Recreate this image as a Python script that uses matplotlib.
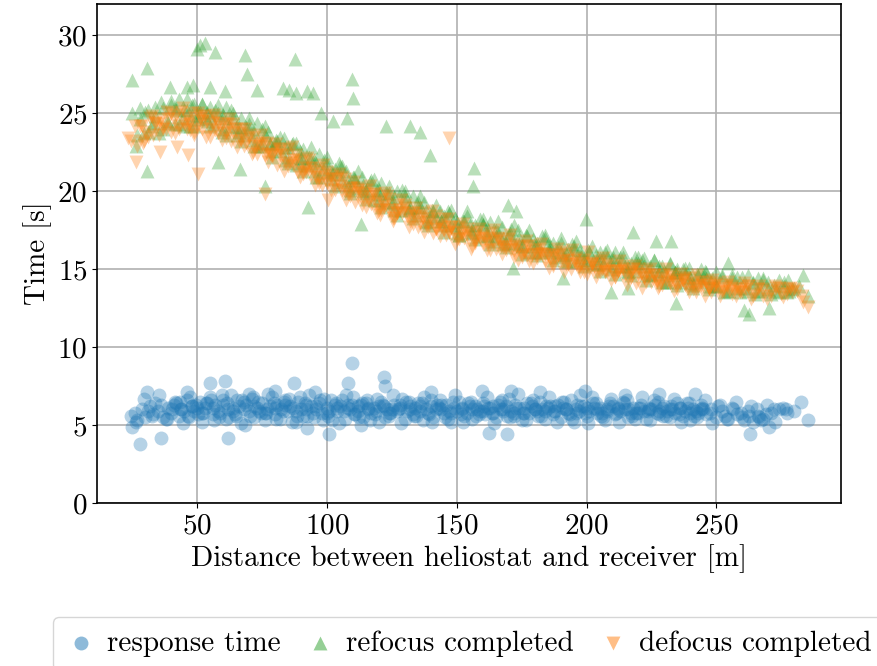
import matplotlib
matplotlib.use("Agg")
import matplotlib.pyplot as plt

plt.rcParams["font.family"] = ["cmr10", "DejaVu Serif"]
plt.rcParams["mathtext.fontset"] = "cm"
plt.rcParams["axes.formatter.use_mathtext"] = True
plt.rcParams["font.size"] = 21

# --- response time (blue circles) ---
resp_x = [
    24.5, 26, 27, 29, 30, 32, 33, 35, 36, 38,
    39, 40, 42, 43, 44, 46, 47, 48, 49, 51,
    52, 53, 55, 56, 57, 58, 60, 61, 62, 63,
    65, 66, 67, 68, 70, 71, 72, 73, 75, 76,
    77, 79, 80, 81, 82, 84, 85, 86, 88, 89,
    90, 91, 93, 94, 95, 97, 98, 99, 100, 102,
    103, 104, 106, 107, 108, 110, 111, 112, 114, 115,
    117, 118, 120, 121, 123, 124, 126, 127, 129, 130,
    132, 133, 135, 137, 138, 140, 141, 143, 145, 146,
    148, 150, 151, 153, 155, 156, 158, 160, 161, 163,
    165, 166, 168, 170, 172, 173, 175, 177, 178, 180,
    182, 184, 185, 187, 189, 190, 192, 194, 195, 197,
    199, 200, 202, 204, 205, 207, 209, 211, 212, 214,
    216, 218, 219, 221, 223, 225, 226, 228, 230, 232,
    233, 235, 237, 239, 240, 242, 244, 246, 248, 250,
    252, 254, 256, 258, 260, 262, 264, 266, 268, 271,
    274, 277, 280,
    41, 45, 50, 54, 59, 64, 69, 74, 78, 83,
    87, 92, 96, 101, 105, 109, 113, 116, 119, 122,
    125, 128, 131, 134, 136, 139, 142, 144, 147, 149,
    152, 154, 157, 159, 162, 164, 167, 169, 171, 174,
    176, 179, 181, 183, 186, 188, 191, 193, 196, 198,
    201, 203, 206, 208, 210, 213, 215, 217, 220, 222,
    224, 227, 229, 231, 234, 236, 238, 241, 243, 245,
    31, 34, 37, 40.5, 43.5, 46.5, 49.5, 52.5, 55.5, 58.5,
    61.5, 64.5, 67.5, 70.5, 73.5, 76.5, 79.5, 82.5, 85.5, 88.5,
    91.5, 94.5, 97.5, 100.5, 103.5, 106.5, 109.5, 112.5, 115.5, 118.5,
    121.5, 124.5, 127.5, 130.5, 133.5, 136.5, 139.5, 142.5, 145.5, 148.5,
    151.5, 154.5, 157.5, 160.5, 163.5, 166.5, 169.5, 172.5, 175.5, 178.5,
    181.5, 184.5, 187.5, 190.5, 193.5, 196.5, 199.5, 202.5, 205.5, 208.5,
    211.5, 214.5, 217.5, 220.5, 223.5, 226.5, 229.5, 232.5, 235.5, 238.5,
    241.5, 244.5, 247.5, 250.5, 253.5, 256.5, 259.5, 262.5, 265.5, 269,
    44, 48, 52, 56, 60, 64, 68, 72, 76, 80,
    84, 88, 92, 96, 100, 104, 108, 112, 116, 120,
    124, 128, 132, 136, 140, 144, 148, 152, 156, 160,
    164, 168, 172, 176, 180, 184, 188, 192, 196, 200,
    204, 208, 212, 216, 220, 224, 228, 232, 236, 240, 244,
    26.5, 29.5, 32.5, 35.5, 38.5, 41.5, 44.5, 47.5, 50.5, 53.5,
    56.5, 59.5, 62.5, 65.5, 68.5, 71.5, 74.5, 77.5, 80.5, 83.5,
    86.5, 89.5, 92.5, 95.5, 98.5, 101.5, 104.5, 107.5, 110.5, 113.5,
    116.5, 119.5, 122.5, 125.5, 128.5, 131.5, 134.5, 137.5, 140.5, 143.5,
    146.5, 149.5, 152.5, 155.5, 158.5, 161.5, 164.5, 167.5, 170.5, 173.5,
    176.5, 179.5, 182.5, 185.5, 188.5, 191.5, 194.5, 197.5, 200.5, 203.5,
    206.5, 209.5, 212.5, 215.5, 218.5, 221.5, 224.5, 227.5, 230.5, 233.5,
    236.5, 239.5, 242.5, 245.5, 248.5, 251.5, 254.5, 257.5, 260.5, 263.5,
    266.5, 269.5, 272.5, 275.5,
    25.1, 28.1, 36.2, 30.6, 55.0, 60.8, 61.8, 87.3, 92.2, 100.9,
    108.2, 109.5, 122.0, 122.3, 113.3, 162.5, 169.3, 159.9, 171.0, 199.6,
    227.8, 241.9, 263.1, 267.2, 270.4, 272.3, 276.8, 282.6, 285.1, 46,
    80, 70, 140, 182, 215,
]
resp_y = [
    5.6, 5.8, 5.3, 6.0, 5.5, 6.2, 5.7, 5.9, 6.3, 5.4,
    6.1, 5.8, 6.4, 5.6, 6.0, 6.6, 5.5, 6.2, 5.9, 6.5,
    5.2, 6.1, 6.8, 5.7, 6.3, 5.9, 6.6, 5.4, 6.0, 6.9,
    5.6, 6.2, 5.1, 6.5, 5.9, 6.7, 5.5, 6.1, 6.4, 5.3,
    6.0, 6.8, 5.7, 6.3, 5.4, 6.6, 5.9, 6.2, 5.2, 6.5,
    6.0, 5.6, 6.9, 6.2, 5.5, 6.4, 5.8, 6.7, 6.1, 5.3,
    6.3, 5.9, 6.6, 5.4, 6.1, 6.8, 5.7, 6.2, 5.5, 6.4,
    5.8, 6.1, 5.2, 6.5, 6.0, 5.6, 6.3, 5.9, 6.7, 5.4,
    6.2, 5.7, 6.4, 5.3, 6.0, 6.6, 5.5, 6.1, 5.8, 6.3,
    5.2, 5.9, 6.5, 5.6, 6.2, 5.4, 6.0, 6.4, 5.7, 6.1,
    5.5, 6.3, 5.9, 6.7, 5.6, 6.1, 5.3, 6.4, 5.8, 6.0,
    6.5, 5.4, 6.1, 5.7, 6.3, 5.5, 6.0, 6.6, 5.2, 5.9,
    6.2, 5.6, 6.8, 5.8, 6.1, 5.3, 6.4, 5.7, 6.0, 6.5,
    5.5, 6.1, 5.8, 6.3, 5.4, 6.0, 6.6, 5.7, 6.2, 5.5,
    6.0, 6.4, 5.6, 6.1, 5.3, 5.9, 6.3, 5.7, 6.0, 5.5,
    5.9, 5.4, 6.1, 5.7, 5.5, 5.9, 5.2, 5.6, 5.4, 5.8,
    6.0, 5.8, 5.9,
    6.3, 5.9, 6.1, 6.4, 5.8, 6.1, 6.3, 5.9, 6.2, 5.9,
    6.1, 6.3, 6.0, 5.9, 6.2, 6.0, 6.3, 6.1, 5.9, 6.2,
    6.0, 6.3, 5.9, 6.1, 6.2, 5.8, 6.0, 6.3, 5.9, 6.1,
    6.0, 5.8, 6.2, 5.9, 6.1, 5.8, 6.0, 6.2, 5.9, 6.1,
    5.8, 6.2, 5.9, 6.0, 6.2, 5.9, 6.1, 5.8, 6.0, 6.2,
    5.9, 6.1, 5.8, 6.0, 6.2, 5.9, 6.0, 5.8, 6.1, 5.9,
    6.0, 5.8, 6.1, 5.9, 5.8, 6.1, 5.9, 6.0, 5.8, 6.0,
    5.9, 6.4, 5.5, 6.0, 6.5, 5.6, 6.3, 5.8, 6.6, 5.5,
    6.4, 5.7, 6.6, 5.6, 6.5, 5.8, 6.4, 6.0, 6.7, 5.6,
    6.4, 5.8, 6.6, 5.6, 6.4, 5.9, 6.3, 5.5, 6.6, 5.7,
    6.3, 5.8, 6.0, 6.5, 5.6, 6.4, 5.7, 6.3, 5.5, 6.5,
    5.7, 6.4, 5.6, 6.2, 5.8, 6.5, 5.6, 6.3, 5.8, 6.4,
    5.6, 6.2, 5.9, 6.5, 5.7, 6.3, 5.8, 6.4, 5.6, 6.2,
    5.8, 6.4, 5.6, 6.1, 5.9, 6.3, 5.6, 6.2, 5.7, 6.4,
    5.6, 6.1, 5.8, 6.2, 5.6, 6.0, 5.8, 5.6, 6.0, 5.7,
    6.0, 6.2, 5.8, 6.1, 6.3, 5.9, 6.0, 6.2, 5.8, 6.1,
    6.3, 5.9, 6.0, 6.2, 5.8, 6.1, 6.3, 5.9, 6.0, 6.2,
    5.8, 6.1, 6.0, 5.9, 6.2, 6.0, 5.8, 6.1, 6.0, 5.9,
    6.2, 6.0, 5.8, 6.1, 6.0, 5.9, 6.2, 6.0, 5.8, 6.1,
    6.0, 5.9, 6.1, 6.0, 5.8, 6.1, 5.9, 6.0, 6.1, 5.8, 6.0,
    5.2, 6.7, 5.6, 6.9, 5.4, 6.5, 5.1, 6.8, 5.7, 6.4,
    5.3, 6.9, 5.5, 6.6, 5.0, 6.8, 5.8, 7.0, 5.4, 6.5,
    5.2, 6.8, 5.6, 7.1, 5.3, 6.6, 5.1, 6.9, 5.7, 6.4,
    5.3, 6.7, 5.5, 6.9, 5.1, 6.5, 5.6, 6.8, 5.2, 6.6,
    5.4, 6.9, 5.2, 6.5, 5.7, 6.8, 5.1, 6.6, 5.5, 7.0,
    5.3, 6.6, 5.6, 6.8, 5.2, 6.5, 5.4, 6.9, 5.1, 6.4,
    5.5, 6.7, 5.2, 6.6, 5.4, 6.8, 5.3, 6.5, 5.6, 6.7,
    5.2, 6.4, 5.5, 6.6, 5.1, 6.3, 5.4, 6.5, 5.3, 6.2,
    5.5, 6.3, 5.2, 6.1,
    4.9, 3.8, 4.2, 7.1, 7.7, 7.8, 4.2, 7.7, 4.8, 4.4,
    7.7, 9.0, 8.1, 7.5, 5.0, 4.5, 4.4, 7.2, 7.2, 7.2,
    7.0, 7.0, 4.4, 5.3, 4.9, 6.0, 6.0, 6.5, 5.3, 7.1,
    7.2, 7.0, 7.1, 7.1, 6.9,
]

# --- refocus completed (green up-triangles) ---
refocus_x = [
    25, 26.5, 28, 29.5, 31, 32.5, 34, 35.5, 37, 38.5,
    40, 41.5, 43, 44.5, 46, 47.5, 49, 50.5, 52, 53.5,
    55, 56.5, 58, 59.5, 61, 62.5, 64, 65.5, 67, 68.5,
    70, 71.5, 73, 74.5, 76, 77.5, 79, 80.5, 82, 83.5,
    85, 86.5, 88, 89.5, 91, 92.5, 94, 95.5, 97, 98.5,
    100, 101.5, 103, 104.5, 106, 107.5, 109, 110.5, 112, 113.5,
    115, 116.5, 118, 119.5, 121, 122.5, 124, 125.5, 127, 128.5,
    130, 131.5, 133, 134.5, 136, 137.5, 139, 140.5, 142, 143.5,
    145, 146.5, 148, 149.5, 151, 152.5, 154, 155.5, 157, 158.5,
    160, 161.5, 163, 164.5, 166, 167.5, 169, 170.5, 172, 173.5,
    175, 176.5, 178, 179.5, 181, 182.5, 184, 185.5, 187, 188.5,
    190, 191.5, 193, 194.5, 196, 197.5, 199, 200.5, 202, 203.5,
    205, 206.5, 208, 209.5, 211, 212.5, 214, 215.5, 217, 218.5,
    220, 221.5, 223, 224.5, 226, 227.5, 229, 230.5, 232, 233.5,
    235, 236.5, 238, 239.5, 241, 242.5, 244, 245.5, 247, 248.5,
    250, 252, 254, 256, 258, 260, 262, 264, 266, 268,
    270, 272, 274, 276, 278, 280,
    42, 48, 54, 60, 66, 72, 78, 84, 90, 96,
    102, 108, 114, 120, 126, 132, 138, 144, 150, 156,
    162, 168, 174, 180, 186, 192, 198, 204, 210, 216,
    222, 228, 234, 240, 246,
    27, 30, 33, 36, 39, 42, 45, 48, 51, 54,
    57, 60, 63, 66, 69, 72, 75, 78, 81, 84,
    87, 90, 93, 96, 99, 102, 105, 108, 111, 114,
    117, 120, 123, 126, 129, 132, 135, 138, 141, 144,
    147, 150, 153, 156, 159, 162, 165, 168, 171, 174,
    177, 180, 183, 186, 189, 192, 195, 198, 201, 204,
    207, 210, 213, 216, 219, 222, 225, 228, 231, 234,
    237, 240, 243, 246, 249, 252, 255, 258, 261, 264,
    267, 270, 273, 276, 279, 282,
    45, 50, 55, 60, 65, 70, 75, 80, 85, 90,
    95, 100, 105, 110, 115, 120, 125, 130, 135, 140,
    145, 150, 155, 160, 165, 170, 175, 180, 185, 190,
    195, 200, 205, 210, 215, 220, 225, 230, 235, 240,
    245, 250,
    28, 31, 34, 37, 40, 43, 46, 49, 52, 55,
    58, 61, 64, 67, 70, 73, 76, 79, 82, 85,
    88, 91, 94, 97, 100, 103, 106, 109, 112, 115,
    118, 121, 124, 127, 130, 133, 136, 139, 142, 145,
    148, 151, 154, 157, 160, 163, 166, 169, 172, 175,
    178, 181, 184, 187, 190, 193, 196, 199, 202, 205,
    208, 211, 214, 217, 220, 223, 226, 229, 232, 235,
    238, 241, 244, 247, 250, 253, 256, 259, 262, 265,
    268, 271, 274, 277,
    24.9, 30.9, 50.1, 51.2, 53.1, 56.9, 68.5, 69.1, 87.7, 83.1,
    85.5, 88.3, 39.6, 48.6, 55.0, 30.7, 76.2, 109.5, 110.1, 92.2,
    94.7, 97.6, 102.2, 107.6, 122.7, 131.9, 135.8, 139.6, 156.5, 156.3,
    92.8, 113.3, 199.9, 217.8, 226.8, 232.6, 169.7, 173.0, 209.5, 215.9,
    234.5, 171.7, 190.9, 283.2, 285.1, 262.7, 260.8, 270.4, 277.4, 254.3,
    265.9, 46.0, 60.8, 73.0, 58.2, 66.5,
]
refocus_y = [
    25.0, 22.9, 24.6, 23.7, 25.2, 24.2, 24.8, 23.7, 25.3, 24.5,
    25.5, 24.3, 25.9, 24.7, 25.2, 24.2, 25.6, 24.6, 25.6, 24.7,
    25.4, 24.3, 25.0, 23.8, 25.4, 24.2, 24.7, 23.6, 24.7, 23.6,
    24.3, 23.3, 24.4, 22.9, 23.6, 23.8, 22.6, 23.3, 22.6, 23.4,
    22.2, 23.0, 21.7, 22.6, 22.7, 21.7, 22.1, 21.3, 22.4, 21.4,
    21.8, 20.8, 21.4, 21.8, 20.6, 21.3, 20.1, 20.9, 20.2, 20.9,
    19.9, 20.6, 19.4, 20.1, 20.5, 19.3, 19.9, 19.3, 20.0, 18.8,
    19.7, 18.8, 19.7, 18.5, 19.0, 19.3, 18.1, 18.8, 18.3, 18.7,
    17.8, 18.7, 17.8, 18.3, 17.2, 18.1, 18.4, 17.4, 17.8, 17.1,
    17.9, 17.2, 18.0, 16.8, 17.4, 17.7, 16.7, 17.3, 16.7, 17.5,
    16.5, 17.2, 16.1, 16.9, 16.7, 16.1, 17.0, 16.2, 16.7, 15.8,
    16.7, 15.9, 16.3, 16.6, 15.5, 16.2, 15.6, 16.2, 15.3, 15.9,
    16.1, 15.3, 15.8, 15.0, 16.1, 15.2, 15.8, 14.9, 15.4, 15.8,
    14.9, 15.6, 14.6, 15.2, 15.6, 14.7, 15.2, 14.2, 15.3, 14.6,
    15.0, 14.2, 14.7, 15.1, 14.0, 14.7, 14.2, 14.9, 13.9, 14.4,
    13.9, 14.6, 13.6, 14.4, 13.8, 14.5, 13.6, 14.1, 13.6, 14.3,
    13.7, 14.0, 13.5, 13.9, 13.6, 13.8,
    25.2, 24.9, 25.1, 24.7, 24.1, 23.8, 23.1, 22.8, 22.1, 21.8,
    21.3, 20.7, 20.4, 19.8, 19.6, 19.0, 18.7, 18.1, 18.0, 17.6,
    17.5, 17.0, 17.0, 16.5, 16.5, 16.0, 16.0, 15.6, 15.6, 15.2,
    15.2, 14.9, 14.8, 14.5, 14.4,
    23.6, 25.1, 24.4, 25.7, 24.4, 25.3, 24.2, 25.5, 25.1, 24.5,
    25.2, 24.0, 25.2, 23.8, 24.1, 22.9, 24.0, 23.0, 23.2, 22.0,
    23.1, 21.8, 22.2, 20.9, 22.0, 21.1, 21.6, 20.3, 20.7, 20.0,
    20.7, 19.4, 19.9, 18.8, 20.1, 18.9, 19.3, 18.0, 18.7, 18.1,
    18.6, 17.3, 18.1, 17.3, 18.2, 17.1, 17.5, 16.6, 17.6, 16.6,
    17.1, 16.1, 17.1, 16.1, 16.4, 15.5, 16.5, 15.8, 16.1, 15.3,
    16.1, 15.2, 15.8, 14.8, 15.4, 15.7, 14.6, 15.2, 14.2, 14.8,
    15.0, 14.1, 14.6, 14.8, 13.9, 14.5, 13.6, 14.5, 13.8, 14.2,
    13.6, 14.2, 13.6, 14.2, 13.7, 13.9,
    25.2, 24.8, 24.9, 24.9, 24.1, 24.0, 23.1, 23.1, 22.8, 22.1,
    22.0, 21.2, 21.1, 20.9, 20.1, 20.1, 19.2, 19.3, 19.0, 18.4,
    18.4, 17.7, 17.8, 17.8, 17.1, 17.2, 16.5, 16.7, 16.6, 16.1,
    16.2, 15.6, 15.7, 15.8, 15.2, 15.4, 14.7, 14.9, 14.8, 14.4,
    14.5, 14.0,
    25.3, 23.8, 25.4, 24.0, 25.8, 24.3, 25.9, 24.2, 25.6, 24.2,
    25.5, 23.6, 25.0, 23.2, 24.7, 22.9, 24.2, 22.2, 23.5, 21.8,
    23.1, 21.3, 22.8, 20.9, 22.2, 20.3, 21.6, 19.9, 21.3, 19.5,
    20.8, 19.0, 20.3, 18.5, 20.0, 18.3, 19.7, 17.8, 19.1, 17.4,
    18.8, 17.2, 18.7, 16.9, 18.2, 16.6, 18.1, 16.4, 17.8, 16.0,
    17.5, 15.9, 17.2, 15.6, 17.0, 15.5, 16.8, 15.2, 16.5, 14.9,
    16.2, 14.7, 16.1, 14.6, 15.8, 14.3, 15.6, 14.2, 15.4, 14.0,
    15.1, 13.8, 15.0, 13.7, 14.8, 13.5, 14.6, 13.5, 14.6, 13.4,
    14.4, 13.4, 14.3, 13.5,
    27.1, 27.9, 29.1, 29.4, 29.5, 28.9, 28.7, 27.5, 28.5, 26.6,
    26.5, 26.3, 26.7, 26.8, 26.7, 21.3, 20.3, 27.2, 26.0, 26.4,
    26.3, 25.0, 24.5, 24.7, 24.2, 24.2, 23.8, 22.3, 21.5, 20.3,
    19.0, 17.9, 18.2, 17.4, 16.8, 16.8, 19.1, 18.7, 13.5, 13.8,
    12.8, 15.1, 14.4, 14.6, 13.3, 12.1, 12.4, 12.5, 14.3, 15.4,
    14.4, 26.7, 26.4, 26.5, 21.9, 21.4,
]

# --- defocus completed (orange down-triangles) ---
defocus_x = [
    24.5, 26, 27, 29, 30, 32, 33, 35, 36, 38,
    39, 40, 42, 43, 44, 46, 47, 48, 49, 51,
    52, 53, 55, 56, 57, 58, 60, 61, 62, 63,
    65, 66, 67, 68, 70, 71, 72, 73, 75, 76,
    77, 79, 80, 81, 82, 84, 85, 86, 88, 89,
    90, 91, 93, 94, 95, 97, 98, 99, 100, 102,
    103, 104, 106, 107, 108, 110, 111, 112, 114, 115,
    117, 118, 120, 121, 123, 124, 126, 127, 129, 130,
    132, 133, 135, 137, 138, 140, 141, 143, 145, 146,
    148, 150, 151, 153, 155, 156, 158, 160, 161, 163,
    165, 166, 168, 170, 172, 173, 175, 177, 178, 180,
    182, 184, 185, 187, 189, 190, 192, 194, 195, 197,
    199, 200, 202, 204, 205, 207, 209, 211, 212, 214,
    216, 218, 219, 221, 223, 225, 226, 228, 230, 232,
    233, 235, 237, 239, 240, 242, 244, 246, 248, 250,
    252, 254, 256, 258, 260, 262, 264, 266, 268, 271,
    273, 275, 277, 279, 281,
    34, 37, 41, 45, 50, 54, 59, 64, 69, 74,
    78, 83, 87, 92, 96, 101, 105, 109, 113, 116,
    119, 122, 125, 128, 131, 134, 136, 139, 142, 144,
    147, 149, 152, 154, 157, 159, 162, 164, 167, 169,
    171, 174, 176, 179, 181, 183, 186, 188, 191, 193,
    196, 198, 201, 203, 206, 208, 210, 213, 215, 217,
    220, 222, 224, 227, 229, 231, 234, 236, 238, 241,
    243, 245, 247, 249, 251, 253, 255, 257, 259, 261,
    28, 31, 34, 37, 40, 43, 46, 49, 52, 55,
    58, 61, 64, 67, 70, 73, 76, 79, 82, 85,
    88, 91, 94, 97, 100, 103, 106, 109, 112, 115,
    118, 121, 124, 127, 130, 133, 136, 139, 142, 145,
    148, 151, 154, 157, 160, 163, 166, 169, 172, 175,
    178, 181, 184, 187, 190, 193, 196, 199, 202, 205,
    208, 211, 214, 217, 220, 223, 226, 229, 232, 235,
    238, 241, 244, 247, 250, 253, 256, 259, 262, 265,
    268, 271, 274, 277, 280, 283,
    47, 52, 57, 62, 67, 72, 77, 82, 87, 92,
    97, 102, 107, 112, 117, 122, 127, 132, 137, 142,
    147, 152, 157, 162, 167, 172, 177, 182, 187, 192,
    197, 202, 207, 212, 217, 222, 227, 232, 237, 242,
    247,
    29.5, 32.5, 35.5, 38.5, 41.5, 44.5, 47.5, 50.5, 53.5, 56.5,
    59.5, 62.5, 65.5, 68.5, 71.5, 74.5, 77.5, 80.5, 83.5, 86.5,
    89.5, 92.5, 95.5, 98.5, 101.5, 104.5, 107.5, 110.5, 113.5, 116.5,
    119.5, 122.5, 125.5, 128.5, 131.5, 134.5, 137.5, 140.5, 143.5, 146.5,
    149.5, 152.5, 155.5, 158.5, 161.5, 164.5, 167.5, 170.5, 173.5, 176.5,
    179.5, 182.5, 185.5, 188.5, 191.5, 194.5, 197.5, 200.5, 203.5, 206.5,
    209.5, 212.5, 215.5, 218.5, 221.5, 224.5, 227.5, 230.5, 233.5, 236.5,
    239.5, 242.5, 245.5, 248.5, 251.5, 254.5, 257.5, 260.5, 263.5, 266.5,
    269.5, 272.5, 275.5, 278.5,
    26.5, 50.5, 76.2, 147.0, 285.1, 283.2, 23.6, 29.3, 35.8, 42.2,
    46.7, 100.5, 120.4, 125.5,
]
defocus_y = [
    23.2, 24.2, 22.9, 24.2, 23.8, 24.7, 23.6, 24.3, 24.6, 24.0,
    24.6, 23.8, 24.9, 24.2, 25.1, 24.0, 24.5, 25.0, 23.6, 24.7,
    24.0, 24.8, 23.5, 24.4, 24.7, 23.7, 24.3, 23.7, 24.3, 23.2,
    24.0, 23.2, 24.0, 22.9, 23.4, 22.4, 23.5, 22.9, 23.1, 22.3,
    23.1, 22.3, 22.7, 21.7, 22.6, 21.8, 22.7, 21.8, 22.0, 21.2,
    21.9, 21.1, 22.0, 21.1, 21.3, 21.5, 20.4, 21.1, 20.5, 21.0,
    20.1, 20.8, 20.1, 20.8, 19.8, 20.2, 19.3, 20.2, 19.6, 20.1,
    19.2, 19.8, 18.8, 19.4, 19.7, 18.8, 18.3, 19.1, 18.6, 19.1,
    18.1, 18.6, 17.7, 18.6, 17.8, 18.2, 17.3, 17.8, 18.2, 17.2,
    17.7, 16.9, 17.7, 17.0, 17.3, 16.5, 17.4, 16.6, 17.0, 17.3,
    16.3, 16.9, 16.4, 16.9, 15.8, 16.5, 15.9, 16.5, 15.5, 16.2,
    16.3, 15.5, 15.9, 15.2, 15.9, 15.5, 16.0, 15.0, 15.6, 15.1,
    15.6, 14.7, 15.3, 14.8, 15.5, 14.9, 15.2, 14.5, 14.9, 15.2,
    14.4, 15.0, 14.1, 14.7, 14.9, 14.2, 14.6, 13.9, 14.6, 14.1,
    14.5, 13.7, 14.3, 13.8, 14.4, 13.5, 14.0, 14.2, 13.5, 14.0,
    13.6, 14.0, 13.4, 13.8, 13.5, 13.9, 13.3, 13.7, 13.3, 13.6,
    13.8, 13.4, 13.7, 13.5, 13.6,
    24.4, 24.1, 24.6, 24.3, 24.2, 24.5, 24.1, 23.8, 23.1, 23.0,
    22.4, 22.3, 21.7, 21.5, 20.9, 20.8, 20.3, 20.2, 19.9, 19.4,
    19.3, 19.2, 18.8, 18.8, 18.4, 18.4, 18.0, 18.0, 17.6, 17.7,
    17.4, 17.3, 17.1, 17.2, 16.9, 17.0, 16.7, 16.8, 16.5, 16.4,
    16.3, 16.4, 16.1, 16.0, 15.9, 16.0, 15.7, 15.8, 15.5, 15.6,
    15.3, 15.4, 15.1, 15.2, 15.0, 14.9, 14.9, 14.9, 14.7, 14.8,
    14.7, 14.5, 14.6, 14.3, 14.4, 14.2, 14.2, 14.1, 14.0, 14.1,
    13.9, 14.0, 13.8, 13.9, 13.7, 13.8, 13.6, 13.7, 13.6, 13.7,
    24.2, 23.5, 24.4, 24.0, 25.0, 24.0, 24.7, 23.8, 24.8, 24.0,
    24.4, 23.4, 24.3, 23.3, 23.6, 22.4, 22.9, 22.2, 22.7, 21.6,
    22.3, 21.2, 21.5, 20.5, 21.2, 20.4, 20.9, 19.7, 20.1, 19.0,
    19.8, 18.8, 19.5, 18.6, 18.9, 17.9, 18.4, 17.7, 18.4, 17.5,
    17.7, 16.9, 17.6, 16.7, 17.1, 16.2, 17.0, 16.2, 16.6, 15.8,
    16.5, 15.7, 16.0, 15.3, 16.1, 15.3, 15.7, 14.8, 15.4, 14.8,
    15.3, 14.5, 15.0, 14.5, 15.0, 14.2, 14.6, 14.0, 14.6, 14.0,
    14.4, 13.7, 14.2, 13.7, 14.1, 13.5, 13.9, 13.5, 13.9, 13.4,
    13.7, 13.3, 13.8, 13.4, 13.7, 13.3,
    24.3, 24.5, 23.9, 24.0, 23.7, 22.9, 22.4, 22.3, 22.0, 21.2,
    20.9, 20.8, 20.0, 19.9, 19.7, 19.0, 18.6, 18.6, 18.3, 17.6,
    17.4, 17.4, 16.8, 16.9, 16.8, 16.2, 15.9, 16.0, 15.9, 15.3,
    15.2, 15.3, 14.8, 14.9, 14.9, 14.4, 14.2, 14.3, 14.3, 13.8,
    13.8,
    23.2, 24.8, 23.6, 25.1, 23.7, 25.3, 23.9, 25.0, 23.5, 24.9,
    23.3, 24.6, 22.8, 24.0, 22.5, 23.6, 21.9, 23.0, 21.3, 22.8,
    20.9, 22.1, 20.4, 21.7, 20.1, 21.1, 19.4, 20.6, 19.1, 20.3,
    18.6, 19.9, 18.3, 19.4, 17.7, 18.9, 17.4, 18.7, 17.1, 18.2,
    16.6, 17.9, 16.3, 17.6, 16.2, 17.5, 16.0, 17.2, 15.6, 16.8,
    15.4, 16.6, 15.1, 16.3, 14.8, 16.2, 14.8, 16.1, 14.5, 15.7,
    14.3, 15.5, 14.0, 15.2, 13.8, 15.0, 13.8, 15.0, 13.6, 14.7,
    13.5, 14.6, 13.3, 14.3, 13.3, 14.2, 13.3, 14.1, 13.1, 13.9,
    13.1, 13.9, 13.2, 13.8,
    21.9, 21.1, 19.8, 23.4, 12.6, 12.9, 23.4, 23.1, 22.5, 22.8,
    22.3, 19.4, 18.5, 18.1,
]

fig, ax = plt.subplots(figsize=(8.77, 6.66), dpi=100)
fig.subplots_adjust(left=0.1106, right=0.959, bottom=0.2447, top=0.994)

ax.scatter(resp_x, resp_y, s=100, marker="o", color="#1f77b4", alpha=0.33,
           linewidths=0, label="response time")
ax.scatter(refocus_x, refocus_y, s=100, marker="^", color="#2ca02c", alpha=0.33,
           linewidths=0, label="refocus completed")
ax.scatter(defocus_x, defocus_y, s=100, marker="v", color="#ff7f0e", alpha=0.33,
           linewidths=0, label="defocus completed")

ax.set_xlim(11.5, 298)
ax.set_ylim(0, 32)
ax.set_xticks([50, 100, 150, 200, 250])
ax.set_yticks([0, 5, 10, 15, 20, 25, 30])
ax.set_axisbelow(True)
ax.grid(True, color="#b0b0b0", linewidth=1.2)
for sp in ax.spines.values():
    sp.set_linewidth(1.2)

ax.set_xlabel("Distance between heliostat and receiver [m]")
ax.set_ylabel("Time [s]")

leg = ax.legend(loc="upper center", bbox_to_anchor=(0.5, -0.2), ncol=3,
                frameon=True, handlelength=1.0, handletextpad=0.4,
                columnspacing=0.85, borderpad=0.45)
for h in leg.legend_handles:
    h.set_alpha(0.5)

fig.savefig("out.png", dpi=100)
